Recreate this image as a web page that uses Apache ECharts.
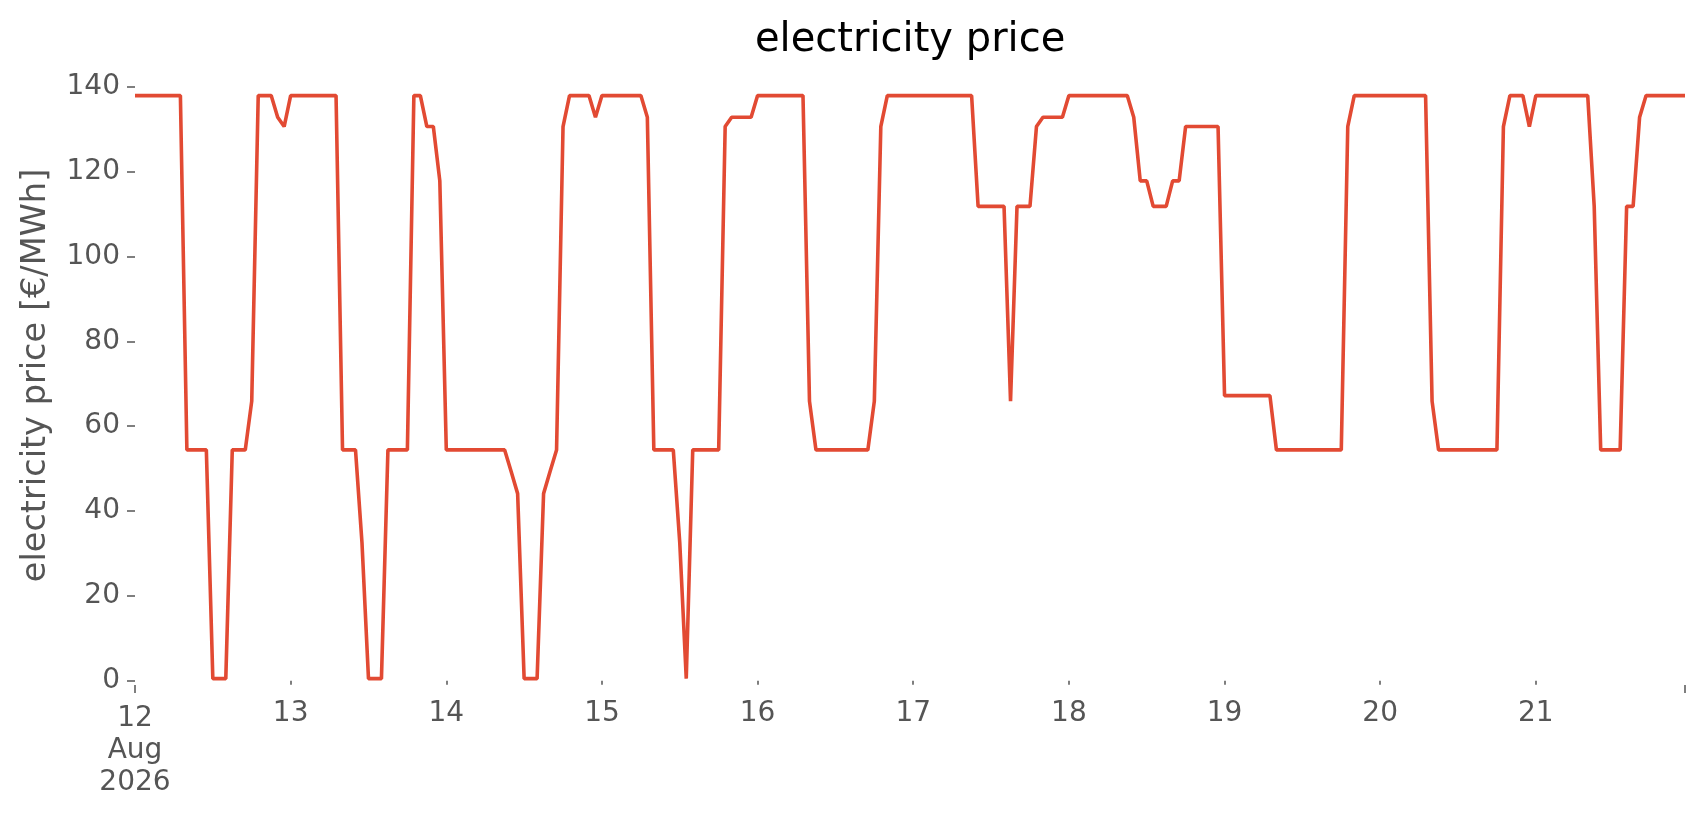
<!DOCTYPE html>
<html>
<head>
<meta charset="utf-8">
<script src="https://cdn.jsdelivr.net/npm/echarts@6/dist/echarts.min.js"></script>
<style>
html,body{margin:0;padding:0;background:#ffffff;}
#chart{width:1706px;height:815px;}
</style>
</head>
<body>
<div id="chart"></div>
<script>
// ---- data (hourly electricity price, €/MWh), one array per day ----
const day12 = [137.9,137.9,137.9,137.9,137.9,137.9,137.9,137.9,54.4,54.4,54.4,54.4,0.5,0.5,0.5,54.4,54.4,54.4,65.9,137.9,137.9,137.9,132.8,130.6];
const day13 = [137.9,137.9,137.9,137.9,137.9,137.9,137.9,137.9,54.4,54.4,54.4,32.5,0.5,0.5,0.5,54.4,54.4,54.4,54.4,137.9,137.9,130.6,130.6,117.8];
const day14 = [54.4,54.4,54.4,54.4,54.4,54.4,54.4,54.4,54.4,54.4,49.3,44.1,0.5,0.5,0.5,44.1,49.3,54.4,130.6,137.9,137.9,137.9,137.9,132.8];
const day15 = [137.9,137.9,137.9,137.9,137.9,137.9,137.9,132.8,54.4,54.4,54.4,54.4,32.5,0.5,54.4,54.4,54.4,54.4,54.4,130.6,132.8,132.8,132.8,132.8];
const day16 = [137.9,137.9,137.9,137.9,137.9,137.9,137.9,137.9,65.9,54.4,54.4,54.4,54.4,54.4,54.4,54.4,54.4,54.4,65.9,130.6,137.9,137.9,137.9,137.9];
const day17 = [137.9,137.9,137.9,137.9,137.9,137.9,137.9,137.9,137.9,137.9,111.8,111.8,111.8,111.8,111.8,65.9,111.8,111.8,111.8,130.6,132.8,132.8,132.8,132.8];
const day18 = [137.9,137.9,137.9,137.9,137.9,137.9,137.9,137.9,137.9,137.9,132.8,117.8,117.8,111.8,111.8,111.8,117.8,117.8,130.6,130.6,130.6,130.6,130.6,130.6];
const day19 = [67.2,67.2,67.2,67.2,67.2,67.2,67.2,67.2,54.4,54.4,54.4,54.4,54.4,54.4,54.4,54.4,54.4,54.4,54.4,130.6,137.9,137.9,137.9,137.9];
const day20 = [137.9,137.9,137.9,137.9,137.9,137.9,137.9,137.9,65.9,54.4,54.4,54.4,54.4,54.4,54.4,54.4,54.4,54.4,54.4,130.6,137.9,137.9,137.9,130.6];
const day21 = [137.9,137.9,137.9,137.9,137.9,137.9,137.9,137.9,137.9,111.8,54.4,54.4,54.4,54.4,111.8,111.8,132.8,137.9,137.9,137.9,137.9,137.9,137.9,137.9];

const dayLabels = ['12\nAug\n2026','13','14','15','16','17','18','19','20','21'];
const yTickValues = [0,20,40,60,80,100,120,140];

const titleText = 'electricity price';
const yAxisName = 'electricity price [€/MWh]';

// ---- build hourly series (timestamps in ms, plotted on a numeric axis) ----
const HOUR = 3600000, DAY = 86400000;
const start = Date.UTC(2026, 7, 12, 0, 0, 0);
const prices = [].concat(day12, day13, day14, day15, day16, day17, day18, day19, day20, day21);
const seriesData = prices.map((v, i) => [start + i * HOUR, v]);
const end = start + (prices.length - 1) * HOUR;
const dayTicks = dayLabels.map((_, i) => start + i * DAY);
const minorDayTicks = dayTicks.slice(1);

const labelFmt = v => dayLabels[Math.round((v - start) / DAY)] || '';
const FONT = 'DejaVu Sans';
const GREY = '#555555';

const chart = echarts.init(document.getElementById('chart'), null, {renderer: 'canvas'});
chart.setOption({
  animation: false,
  backgroundColor: '#ffffff',
  title: {
    text: titleText,
    left: 755, top: 21, padding: 0,
    textStyle: {fontFamily: FONT, fontSize: 40, fontWeight: 'normal', color: '#000000'}
  },
  grid: {left: 135, right: 21, top: 66, bottom: 130, containLabel: false},
  xAxis: [
    {
      type: 'value', min: start, max: end, scale: true,
      axisLine: {show: false},
      splitLine: {show: false},
      axisTick: {show: true, length: 4, lineStyle: {color: GREY, width: 1.5}, customValues: minorDayTicks},
      axisLabel: {
        show: true, customValues: minorDayTicks, formatter: labelFmt,
        fontFamily: FONT, fontSize: 28, color: GREY, margin: 13, lineHeight: 32, hideOverlap: false
      }
    },
    {
      type: 'value', min: start, max: end, scale: true, position: 'bottom',
      axisLine: {show: false},
      splitLine: {show: false},
      axisTick: {show: true, length: 8, lineStyle: {color: GREY, width: 1.5}, customValues: [start, end]},
      axisLabel: {
        show: true, customValues: [start], formatter: labelFmt,
        fontFamily: FONT, fontSize: 28, color: GREY, margin: 18, lineHeight: 32, align: 'center'
      }
    }
  ],
  yAxis: {
    type: 'value', min: -1, max: 144.875,
    name: yAxisName, nameLocation: 'middle', nameGap: 82,
    nameTextStyle: {fontFamily: FONT, fontSize: 33.6, color: GREY},
    axisLine: {show: false},
    splitLine: {show: false},
    axisTick: {show: true, length: 8, lineStyle: {color: GREY, width: 1.5}, customValues: yTickValues},
    axisLabel: {show: true, customValues: yTickValues, fontFamily: FONT, fontSize: 28, color: GREY, margin: 15}
  },
  series: [{
    type: 'line',
    xAxisIndex: 0,
    data: seriesData,
    showSymbol: false,
    symbol: 'none',
    lineStyle: {color: '#E24A33', width: 3.6},
    itemStyle: {color: '#E24A33'}
  }]
});
</script>
</body>
</html>
